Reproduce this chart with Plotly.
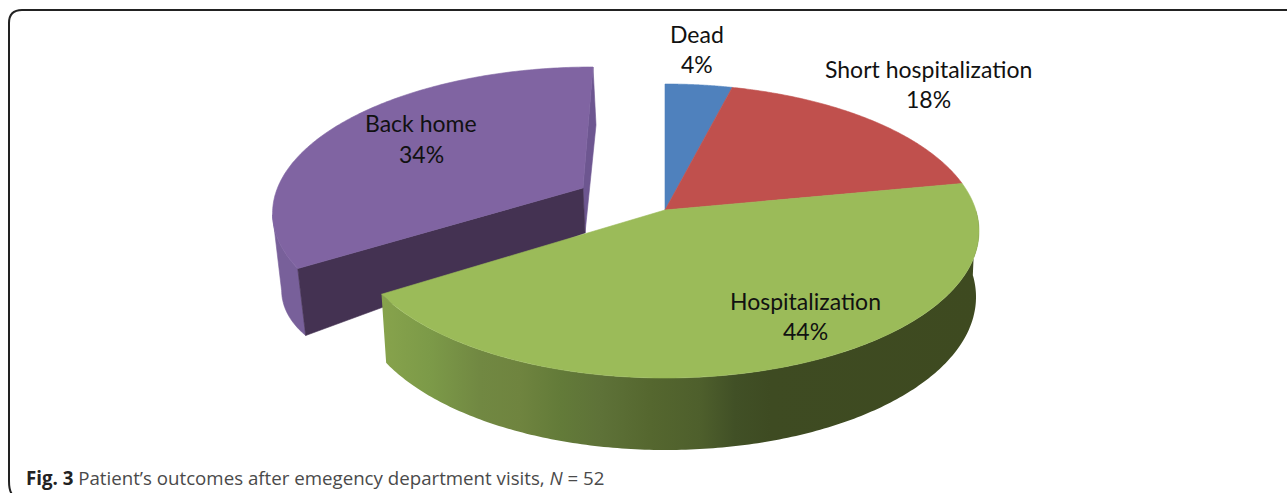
import numpy as np
import plotly.graph_objects as go

# --- data ---
categories = ["Dead", "Short hospitalization", "Hospitalization", "Back home"]
percents = [4, 18, 44, 34]
caption_bold = "Fig. 3"
caption_rest = " Patient’s outcomes after emegency department visits, <i>N</i> = 52"

# --- style ---
top_colors = ["#4f81bd", "#c0504d", "#9bbb59", "#8064a2"]
purple_rim = "#78609a"
purple_wall = "#443252"
purple_edge = "#6d5690"
green_side_x = [381, 430, 480, 520, 560, 600, 650, 700, 735, 770, 985]
green_side_rgb = [(135, 163, 76), (124, 154, 72), (113, 136, 66), (111, 132, 63), (99, 123, 57),
                  (94, 114, 56), (85, 103, 47), (78, 95, 44), (65, 80, 38), (62, 75, 34), (62, 74, 32)]

# --- projection of the pie plane onto the page ---
APEX_V = -21 / 147.0
TOP = dict(ax=314, bx=0, cx=665, ay=0, by=147, cy=231)
BOTTOM = dict(ax=310, bx=0, cx=666, ay=0, by=153, cy=297)
P_TOP = dict(ax=308.5, bx=-11.7, cx=581.3, ay=0.4, by=141.2, cy=208.2)
P_BOTTOM = dict(ax=301.3, bx=-12.8, cx=583.2, ay=-33.6, by=126, cy=251)


def project(m, u, v):
    u, v = np.asarray(u, float), np.asarray(v, float)
    return m["cx"] + m["ax"] * u + m["bx"] * v, m["cy"] + m["ay"] * u + m["by"] * v


def rim(frac):
    """Point of the unit circle hit by the ray from the apex at a share of the pie."""
    th = 2 * np.pi * np.asarray(frac, float)
    dx, dy = np.sin(th), -np.cos(th)
    pd = APEX_V * dy
    t = -pd + np.sqrt(pd ** 2 + 1 - APEX_V ** 2)
    return t * dx, APEX_V + t * dy


def poly(fig, x, y, color, lw=0.6):
    x, y = [float(p) for p in x], [float(p) for p in y]
    fig.add_trace(go.Scatter(x=x + x[:1], y=y + y[:1], mode="lines", fill="toself", fillcolor=color,
                             line=dict(color=color, width=lw, simplify=False),
                             hoverinfo="skip", showlegend=False))


total = sum(percents)
cum = np.concatenate([[0], np.cumsum(percents)]) / total
fig = go.Figure()

# Back-home slice, pulled away
f = np.linspace(cum[3], cum[4], 160)
u, v = rim(f)
xt, yt = project(P_TOP, u, v)
xb, yb = project(P_BOTTOM, u, v)
ax_t, ay_t = project(P_TOP, 0, APEX_V)
ax_b, ay_b = project(P_BOTTOM, 0, APEX_V)
# far narrow wall
poly(fig, [xt[-1], xb[-1], ax_b, ax_t], [yt[-1], yb[-1], ay_b, ay_t], purple_edge)
# outer rim
mask = f <= 0.72
poly(fig, np.r_[xt[mask], xb[mask][::-1]], np.r_[yt[mask], yb[mask][::-1]], purple_rim)
# front wall
poly(fig, [xt[0], xb[0], ax_b, ax_t], [yt[0], yb[0], ay_b, ay_t], purple_wall)
poly(fig, np.r_[ax_t, xt], np.r_[ay_t, yt], top_colors[3])

# Hospitalization outer side, one outline with a horizontal gradient
f = np.linspace(cum[3], cum[2] + 0.03, 200)
u, v = rim(f)
xt, yt = project(TOP, u, v)
xb, yb = project(BOTTOM, u, v)
px = np.r_[xt, xb[::-1]]
py = np.r_[yt, yb[::-1]]
lo, hi = float(px.min()), float(px.max())
stops = []
for sx, c in zip(green_side_x, green_side_rgb):
    t = min(max((sx - lo) / (hi - lo), 0), 1)
    stops.append([t, "rgb({},{},{})".format(*c)])
stops[0][0], stops[-1][0] = 0, 1
fig.add_trace(go.Scatter(
    x=px.tolist() + [float(px[0])], y=py.tolist() + [float(py[0])], mode="lines", fill="toself",
    fillgradient=dict(type="horizontal", colorscale=stops),
    line=dict(width=0, simplify=False), hoverinfo="skip", showlegend=False,
))

# Top faces of the three joined slices
for i in range(3):
    f = np.linspace(cum[i], cum[i + 1], 140)
    u, v = rim(f)
    x, y = project(TOP, u, v)
    ax0, ay0 = project(TOP, 0, APEX_V)
    poly(fig, np.r_[ax0, x], np.r_[ay0, y], top_colors[i])

# Labels
label_pos = [(697, 34, 64), (928, 69, 99), (805, 301, 331), (421, 123, 154)]
ann = []
for name, pct, (lx, ly1, ly2) in zip(categories, percents, label_pos):
    for txt, ly in ((name, ly1), (f"{pct}%", ly2)):
        ann.append(dict(x=lx, y=ly, xref="x", yref="y", text=txt, showarrow=False, xanchor="center",
                        yanchor="middle", font=dict(family="Lato", size=23, color="#111111")))
ann.append(dict(x=24, y=477, xref="x", yref="y", showarrow=False, xanchor="left", yanchor="middle",
                text=f"<b style='color:#222222'>{caption_bold}</b>{caption_rest}",
                font=dict(family="Open Sans", size=18.7, color="#4a4a4a")))

frame = "M 1287 10 L 22 10 Q 9 10 9 23 L 9 481 Q 9 493 14 496"
fig.update_layout(
    width=1287, height=493, margin=dict(l=0, r=0, t=0, b=0),
    paper_bgcolor="white", plot_bgcolor="white", showlegend=False,
    xaxis=dict(range=[0, 1287], visible=False, fixedrange=True),
    yaxis=dict(range=[493, 0], visible=False, fixedrange=True),
    annotations=ann,
    shapes=[dict(type="path", path=frame, xref="x", yref="y", line=dict(color="#222222", width=2))],
)
fig.write_html(
    "out.html", config=dict(displayModeBar=False),
    post_script="document.body.style.margin='0';document.documentElement.style.overflow='hidden';",
)
